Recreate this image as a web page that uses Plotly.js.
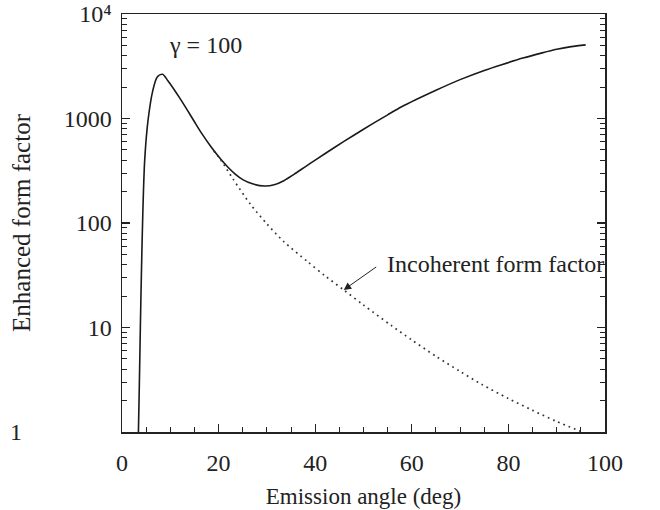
<!DOCTYPE html>
<html>
<head>
<meta charset="utf-8">
<script src="https://cdn.plot.ly/plotly-3.0.1.min.js"></script>
<style>html,body{margin:0;padding:0;background:#fff;}#chart{width:660px;height:510px;}</style>
</head>
<body>
<div id="chart"></div>
<script>
// Enhanced (coherent + incoherent) form factor, gamma = 100
const enhancedAngle = [3.4, 3.6, 3.8, 4.0, 4.3, 4.7, 5.4, 6.4, 7.3, 8.4, 9.5, 10.6, 12, 13.4, 15, 16.5, 18.5, 20.5, 22, 23.5, 25, 27, 29.5, 31.5, 33.5, 35.6, 38, 40, 43.9, 48, 52, 55, 57.8, 65, 70, 75, 78.6, 83, 87, 90, 93, 96];
const enhancedValue = [1, 3, 10, 30, 120, 400, 970, 1870, 2500, 2650, 2300, 1950, 1560, 1230, 930, 720, 530, 405, 340, 292, 260, 237, 226, 232, 254, 292, 347, 400, 525, 692, 897, 1084, 1288, 1862, 2355, 2884, 3273, 3784, 4246, 4592, 4875, 5070];

// Incoherent form factor
const incoherentAngle = [19, 20.5, 23, 26.6, 30, 33.4, 38.4, 42, 45.9, 50, 55.7, 60, 65, 70, 74.5, 80, 84.9, 90, 95.3];
const incoherentValue = [490, 398, 263, 151, 98, 67, 42.7, 31.3, 22.9, 16.4, 10.5, 7.6, 5.3, 3.8, 2.85, 2.09, 1.62, 1.26, 1.0];

const yTickVals = [10, 100, 1000, 10000];
const yTickText = ['10', '100', '1000', '10⁴'];
const yMinorVals = [1, 2, 3, 4, 5, 6, 7, 8, 9, 20, 30, 40, 50, 60, 70, 80, 90, 200, 300, 400, 500, 600, 700, 800, 900, 2000, 3000, 4000, 5000, 6000, 7000, 8000, 9000];
const xTickVals = [0, 20, 40, 60, 80, 100];
const xMinorVals = [5, 10, 15, 25, 30, 35, 45, 50, 55, 65, 70, 75, 85, 90, 95];

const serif = 'Liberation Serif';
const ink = '#222';

const traces = [
  {
    x: enhancedAngle, y: enhancedValue, type: 'scatter', mode: 'lines',
    line: {color: '#1a1a1a', width: 1.6, shape: 'spline', smoothing: 0.8},
    hoverinfo: 'skip'
  },
  {
    x: incoherentAngle, y: incoherentValue, type: 'scatter', mode: 'lines',
    line: {color: '#333', width: 1.7, dash: '1.7px,4px', shape: 'spline', smoothing: 0.8},
    hoverinfo: 'skip'
  },
  {
    // empty trace that carries the minor-tick axes
    x: [null], y: [null], xaxis: 'x2', yaxis: 'y2', type: 'scatter', mode: 'lines',
    hoverinfo: 'skip', showlegend: false
  }
];

const layout = {
  width: 660, height: 510,
  margin: {l: 122, r: 55, t: 14, b: 78},
  paper_bgcolor: '#fff', plot_bgcolor: '#fff',
  showlegend: false,
  font: {family: serif, size: 22, color: ink},
  xaxis: {
    range: [0, 100], autorange: false,
    tickmode: 'array', tickvals: xTickVals,
    ticks: 'inside', ticklen: 8, tickwidth: 1.2, tickcolor: ink,
    showline: true, linecolor: ink, linewidth: 1.5, mirror: true,
    showgrid: false, zeroline: false,
    ticklabelstandoff: 9,
    ticklabeloverflow: 'allow',
    tickfont: {family: serif, size: 24, color: ink},
    title: {text: 'Emission angle (deg)', font: {family: serif, size: 23, color: ink}, standoff: 12}
  },
  xaxis2: {
    overlaying: 'x', side: 'bottom', anchor: 'y',
    range: [0, 100], autorange: false,
    tickmode: 'array', tickvals: xMinorVals,
    ticks: 'inside', ticklen: 5, tickwidth: 1, tickcolor: ink,
    showticklabels: false, showline: false, showgrid: false, zeroline: false
  },
  yaxis: {
    type: 'log',
    range: [0, 4], autorange: false,
    tickmode: 'array', tickvals: yTickVals, ticktext: yTickText,
    ticks: 'inside', ticklen: 8, tickwidth: 1.2, tickcolor: ink,
    showline: true, linecolor: ink, linewidth: 1.5, mirror: 'ticks',
    showgrid: false, zeroline: false,
    ticklabelstandoff: 4,
    ticklabeloverflow: 'allow',
    tickfont: {family: serif, size: 24, color: ink},
    title: {text: 'Enhanced form factor', font: {family: serif, size: 25, color: ink}, standoff: 26}
  },
  yaxis2: {
    overlaying: 'y', side: 'left', anchor: 'x',
    type: 'log',
    range: [0, 4], autorange: false,
    tickmode: 'array', tickvals: yMinorVals,
    ticks: 'inside', ticklen: 5, tickwidth: 1, tickcolor: ink,
    showticklabels: false, showline: true, linecolor: ink, linewidth: 1.5, mirror: 'ticks',
    showgrid: false, zeroline: false
  },
  annotations: [
    {
      x: -0.235, y: -0.035, xref: 'paper', yref: 'paper',
      text: '1', showarrow: false,
      font: {family: serif, size: 24, color: ink}
    },
    {
      x: 17.2, y: Math.log10(5000), xref: 'x', yref: 'y',
      text: 'γ = 100', showarrow: false,
      font: {family: serif, size: 24, color: ink}
    },
    {
      x: 45.9, y: Math.log10(22.9), xref: 'x', yref: 'y',
      text: '', showarrow: true,
      ax: 34, ay: -24,
      arrowhead: 2, arrowsize: 1.5, arrowwidth: 1, arrowcolor: ink
    },
    {
      x: 45.9, y: Math.log10(22.9), xref: 'x', yref: 'y',
      text: 'Incoherent form factor', showarrow: false,
      xanchor: 'left', xshift: 41, yshift: 26,
      font: {family: serif, size: 24, color: ink}
    }
  ]
};

Plotly.newPlot('chart', traces, layout, {staticPlot: true, displayModeBar: false});
</script>
</body>
</html>
